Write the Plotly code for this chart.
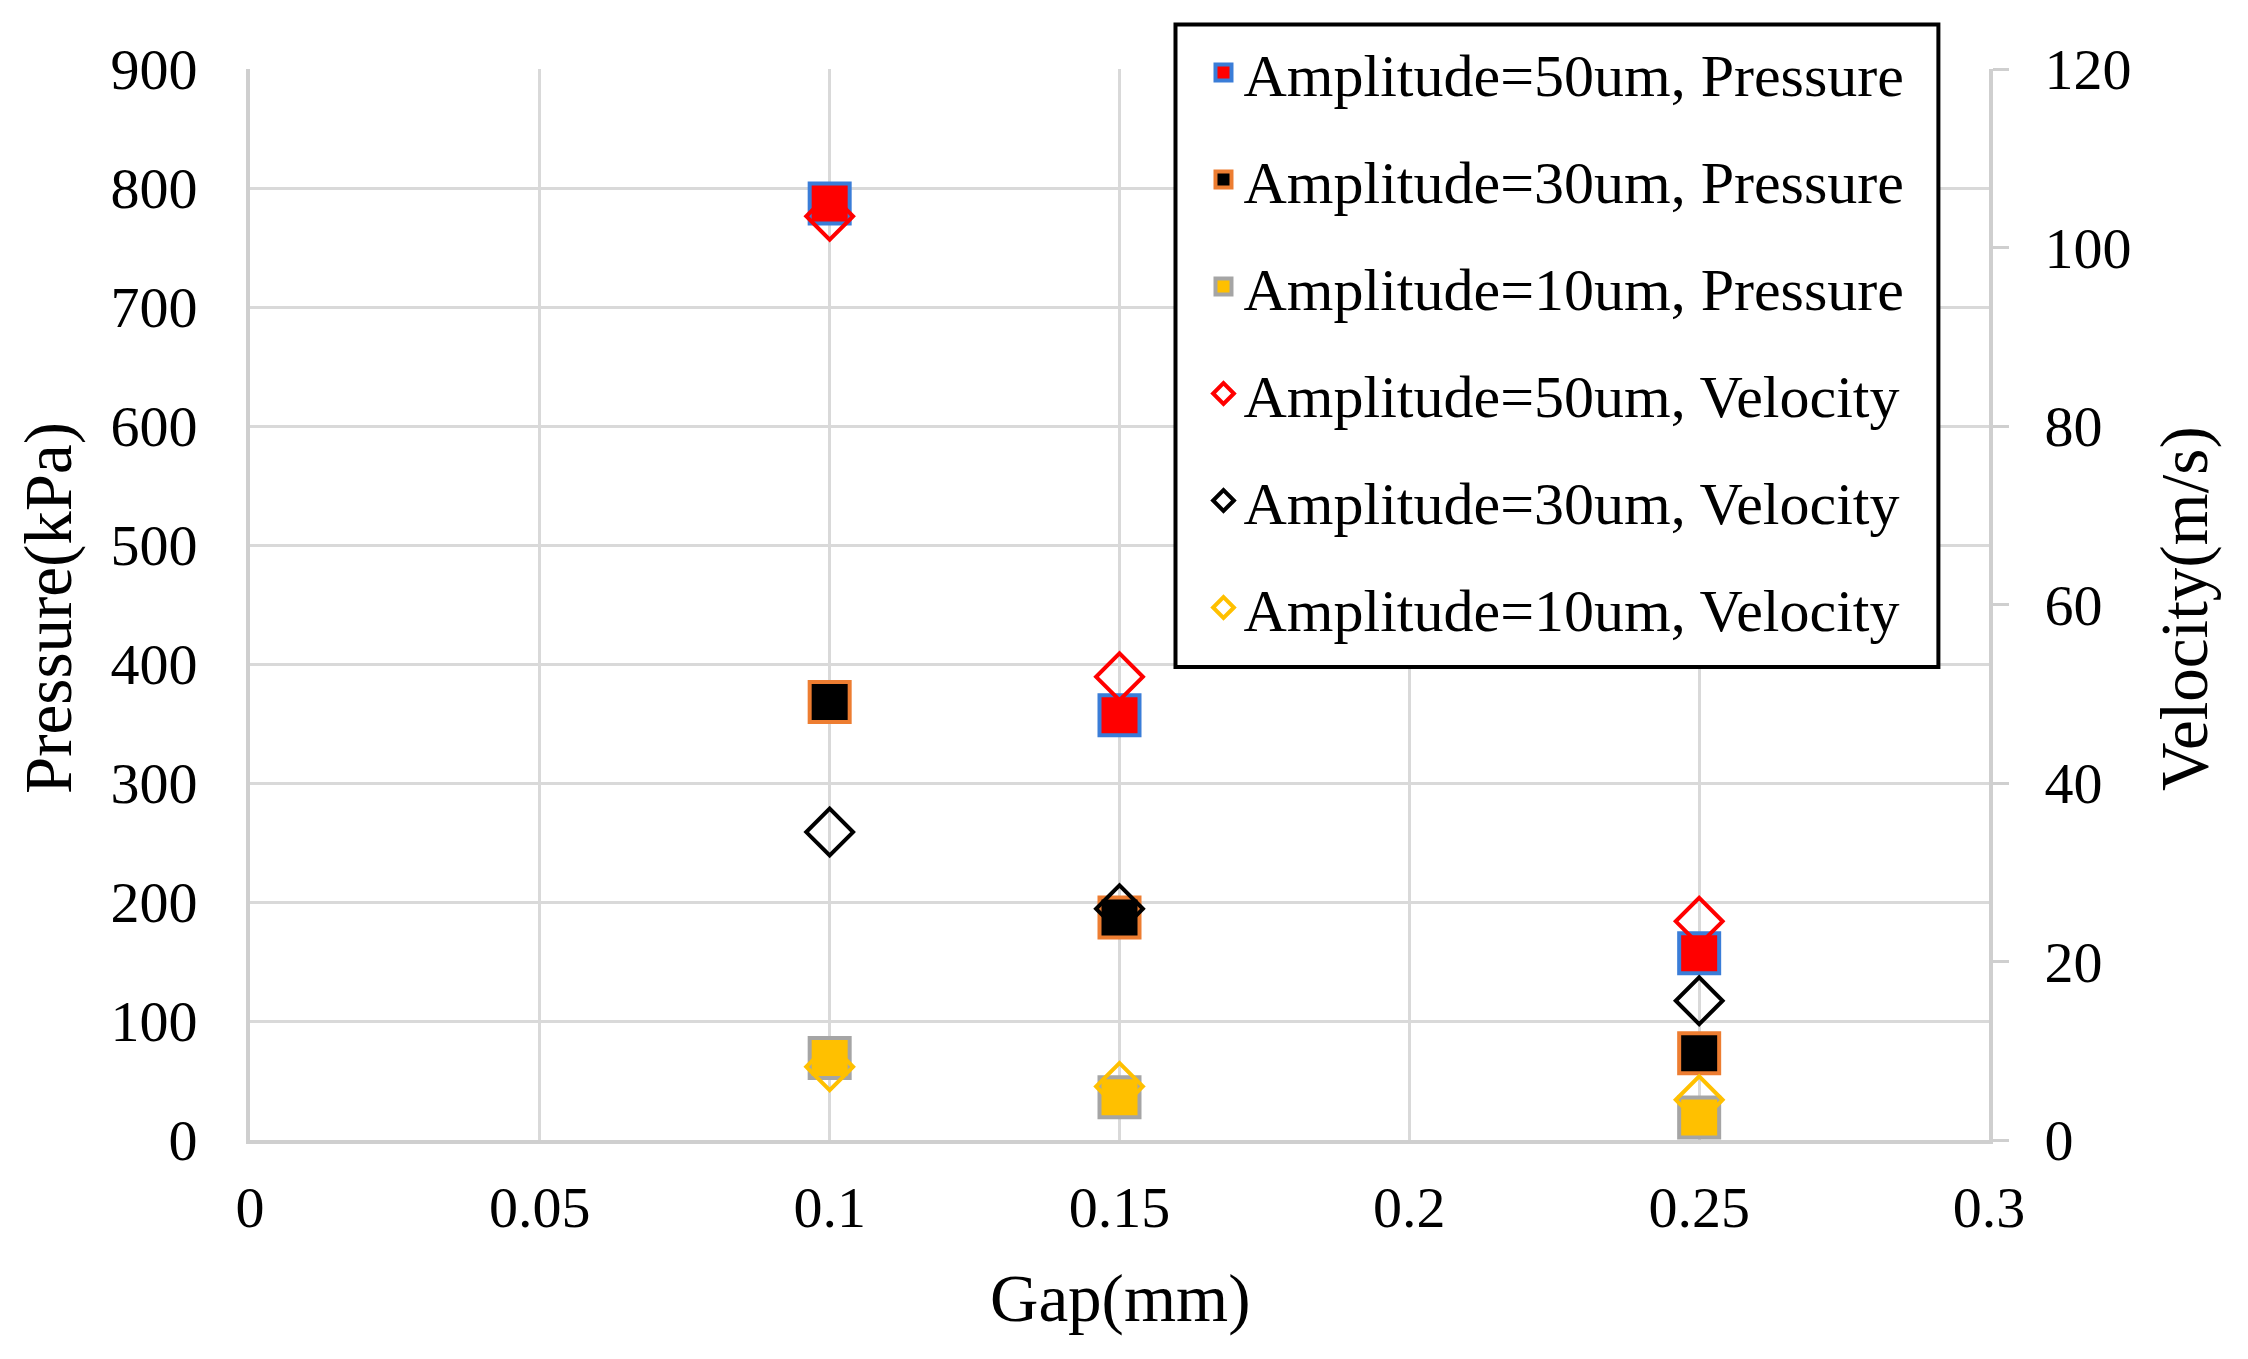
import plotly.graph_objects as go

gap = [0.1, 0.15, 0.25]

p_a50 = [787, 357, 157]
p_a30 = [368, 187, 73]
p_a10 = [69, 36, 19]

v_a50 = [103.5, 51.9, 24.5]
v_a30 = [34.5, 25.9, 15.6]
v_a10 = [8.2, 6.0, 4.5]

names_p = ["Amplitude=50um, Pressure", "Amplitude=30um, Pressure", "Amplitude=10um, Pressure"]
names_v = ["Amplitude=50um, Velocity", "Amplitude=30um, Velocity", "Amplitude=10um, Velocity"]

FONT = "Liberation Serif"
GRID = "#d9d9d9"
AXL = "#cfcfcf"

fig = go.Figure()

p_styles = [("#FF0000", "#3A7DD8"), ("#000000", "#ED7D31"), ("#FFC000", "#A5A5A5")]
for i, (vals, nm) in enumerate(zip([p_a50, p_a30, p_a10], names_p)):
    fill, edge = p_styles[i]
    fig.add_trace(go.Scatter(
        x=gap, y=vals, mode="markers", name=nm, legendgroup=f"g{i}",
        marker=dict(symbol="square", size=40, color=fill, line=dict(color=edge, width=4)),
        yaxis="y",
    ))

v_colors = ["#FF0000", "#000000", "#FFC000"]
for i, (vals, nm) in enumerate(zip([v_a50, v_a30, v_a10], names_v)):
    fig.add_trace(go.Scatter(
        x=gap, y=vals, mode="markers", name=nm, legendgroup=f"h{i}",
        marker=dict(symbol="diamond-open", size=36, color=v_colors[i], line=dict(color=v_colors[i], width=4)),
        yaxis="y2",
    ))

fig.update_layout(
    width=2248, height=1359,
    margin=dict(l=242, r=267, t=61, b=227),
    paper_bgcolor="white", plot_bgcolor="white",
    font=dict(family=FONT, size=58, color="#000000"),
    xaxis=dict(
        range=[0, 0.3], dtick=0.05, tick0=0,
        showgrid=True, gridcolor=GRID, gridwidth=3,
        showline=True, linecolor=AXL, linewidth=4,
        zeroline=False, ticks="", ticklabelstandoff=13,
        tickfont=dict(family=FONT, size=58),
    ),
    yaxis=dict(
        range=[0, 900], dtick=100, tick0=0,
        showgrid=True, gridcolor=GRID, gridwidth=3,
        showline=True, linecolor=AXL, linewidth=4,
        zeroline=False, ticks="", ticklabelstandoff=37,
        tickfont=dict(family=FONT, size=58),
    ),
    yaxis2=dict(
        range=[0, 120], dtick=20, tick0=0,
        overlaying="y", side="right",
        showgrid=False, zeroline=False,
        showline=True, linecolor=AXL, linewidth=4,
        ticks="outside", ticklen=16, tickwidth=3, tickcolor=AXL,
        ticklabelstandoff=24,
        tickfont=dict(family=FONT, size=58),
    ),
    legend=dict(
        x=0.5483, xanchor="left", y=1.0392, yanchor="top",
        borderwidth=0, bgcolor="rgba(0,0,0,0)",
        font=dict(family=FONT, size=60),
        tracegroupgap=26, itemsizing="trace",
    ),
    showlegend=True,
)

# legend frame
fig.add_shape(type="rect", xref="paper", yref="paper",
              x0=0.5322, x1=0.9709, y0=0.4417, y1=1.0416,
              line=dict(color="#000000", width=4), fillcolor="white", layer="above")

fig.add_annotation(text="Gap(mm)", xref="paper", yref="paper", x=0.5, y=-0.148,
                   showarrow=False, font=dict(family=FONT, size=67), xanchor="center", yanchor="middle")
fig.add_annotation(text="Pressure(kPa)", xref="paper", yref="paper", x=-0.1162, y=0.4967,
                   showarrow=False, font=dict(family=FONT, size=67), textangle=-90,
                   xanchor="center", yanchor="middle")
fig.add_annotation(text="Velocity(m/s)", xref="paper", yref="paper", x=1.1121, y=0.4967,
                   showarrow=False, font=dict(family=FONT, size=67), textangle=-90,
                   xanchor="center", yanchor="middle")

fig.write_html("out.html")
